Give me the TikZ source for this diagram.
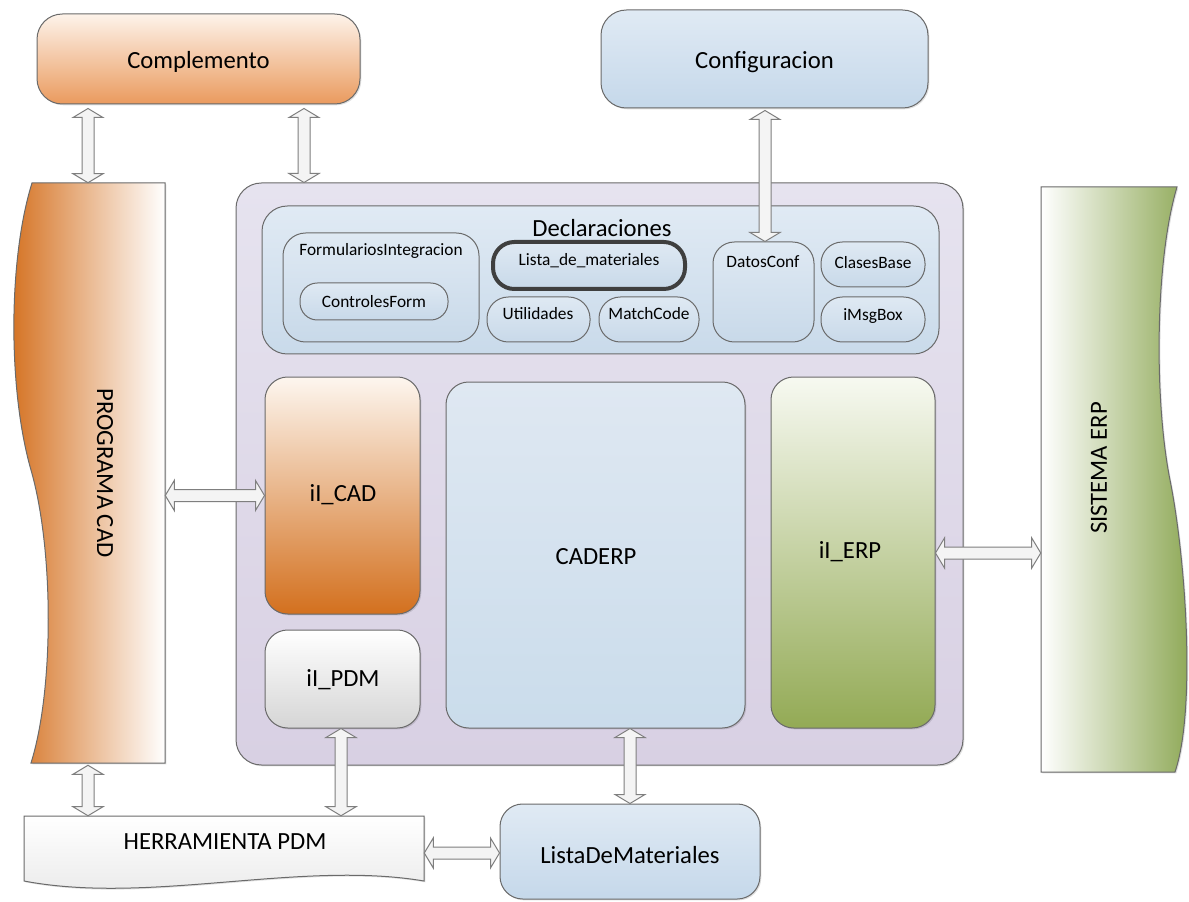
\documentclass[tikz,border=0pt]{standalone}
\usepackage{fontspec}
\setmainfont{Carlito}
\usetikzlibrary{fit,calc,shadows}
\definecolor{strk}{HTML}{6A6A6A}
\definecolor{compT}{HTML}{FDF3EA}
\definecolor{compB}{HTML}{EA9A5E}
\definecolor{confT}{HTML}{E0EAF4}
\definecolor{confB}{HTML}{C5D8EA}
\definecolor{mainT}{HTML}{E6E3EF}
\definecolor{mainB}{HTML}{D8D0E3}
\definecolor{declT}{HTML}{E0EAF4}
\definecolor{declB}{HTML}{C9DAEA}
\definecolor{inT}{HTML}{DFE9F3}
\definecolor{inB}{HTML}{C8D9E9}
\definecolor{icadT}{HTML}{FDF6EF}
\definecolor{icadB}{HTML}{D3701E}
\definecolor{ipdmB}{HTML}{D5D5D5}
\definecolor{caderpT}{HTML}{DFE8F2}
\definecolor{caderpB}{HTML}{CADCEB}
\definecolor{ierpT}{HTML}{F7F9F1}
\definecolor{ierpB}{HTML}{93AA55}
\definecolor{cadL}{HTML}{D4701F}
\definecolor{erpR}{HTML}{8AA550}
\definecolor{arrS}{HTML}{7F7F7F}
\definecolor{arrF}{HTML}{F4F4F4}
\definecolor{thick}{HTML}{3F3F3F}
\tikzset{
  bx/.style={draw=strk, line width=0.75pt, inner sep=0pt},
  big/.style={font=\fontsize{18.5}{22}\selectfont, text=black, inner sep=0pt},
  small/.style={font=\fontsize{13}{15}\selectfont, text=black, inner sep=0pt},
  shd/.style={drop shadow={shadow xshift=1pt, shadow yshift=-1pt, fill=black, opacity=0.12}},
  inbox/.style={bx, top color=inT, bottom color=inB},
  blockarr/.style={draw=arrS, line width=0.75pt, fill=arrF, line join=miter},
}
\newcommand\varrow[2]{%
  \path[blockarr] let \p1=#1, \p2=#2 in
  (\x1,\y1) -- (\x1+11.25pt,\y1-6.75pt) -- (\x1+4.5pt,\y1-6.75pt) -- (\x1+4.5pt,\y2+6.75pt)
  -- (\x1+11.25pt,\y2+6.75pt) -- (\x1,\y2) -- (\x1-11.25pt,\y2+6.75pt) -- (\x1-4.5pt,\y2+6.75pt)
  -- (\x1-4.5pt,\y1-6.75pt) -- (\x1-11.25pt,\y1-6.75pt) -- cycle;}
\newcommand\harrow[2]{%
  \path[blockarr] let \p1=#1, \p2=#2 in
  (\x1,\y1) -- (\x1+6.75pt,\y1+11.25pt) -- (\x1+6.75pt,\y1+4.5pt) -- (\x2-6.75pt,\y1+4.5pt)
  -- (\x2-6.75pt,\y1+11.25pt) -- (\x2,\y1) -- (\x2-6.75pt,\y1-11.25pt) -- (\x2-6.75pt,\y1-4.5pt)
  -- (\x1+6.75pt,\y1-4.5pt) -- (\x1+6.75pt,\y1-11.25pt) -- cycle;}
\begin{document}
\begin{tikzpicture}[x=0.75pt, y=-0.75pt]
\useasboundingbox (0,0) rectangle (1189,902);
\fill[white] (0,0) rectangle (1189,902);

% top boxes
\node[bx, shd, rounded corners=19pt, top color=compT, bottom color=compB, fit={(37,14) (360,104)}] (comp) {};
\node[big] (comptxt) at ($(comp.center)+(0,3)$) {Complemento};
\node[bx, shd, rounded corners=19pt, top color=confT, bottom color=confB, fit={(601,10) (928,108)}] (conf) {};
\node[big] (conftxt) at ($(conf.center)+(0,3)$) {Configuracion};

% PROGRAMA CAD
\node[inner sep=0pt, fit={(12,183) (165,763)}] (cad) {};
\path[bx, shd, left color=cadL, right color=white]
  (165,183) -- (32,183) .. controls (8,260) and (8,390) .. (31,470)
  .. controls (54,550) and (54,690) .. (31,763) -- (165,763) -- cycle;
\node[big, rotate=-90] (cadlbl) at (105,473) {PROGRAMA CAD};

% SISTEMA ERP
\node[inner sep=0pt, fit={(1041,187) (1187,772)}] (erp) {};
\path[bx, shd, left color=white, right color=erpR]
  (1041,187) -- (1177,187) .. controls (1155,260) and (1154,400) .. (1170,480)
  .. controls (1186,560) and (1196,710) .. (1175,772) -- (1041,772) -- cycle;
\node[big, rotate=90] (erplbl) at (1099,468) {SISTEMA ERP};

% HERRAMIENTA PDM
\node[inner sep=0pt, fit={(24,816) (424,889)}] (herr) {};
\path[bx, shd, top color=white, bottom color=gray!18]
  (24,816) -- (424,816) -- (424,881) .. controls (300,860) and (150,905) .. (24,881) -- cycle;
\node[big] (herrlbl) at (225,842) {HERRAMIENTA PDM};

% ListaDeMateriales
\node[bx, shd, rounded corners=17pt, top color=confT, bottom color=confB, fit={(500,804) (760,899)}] (ldm) {};
\node[big] (ldmtxt) at (630,855) {ListaDeMateriales};

% main container
\node[bx, shd, rounded corners=19pt, top color=mainT, bottom color=mainB, fit={(236,183) (963,765)}] (main) {};

% Declaraciones
\node[bx, rounded corners=19pt, top color=declT, bottom color=declB, fit={(262,206) (939,354)}] (decl) {};
\node[big] (decllbl) at (602,228) {Declaraciones};

\node[inbox, rounded corners=17pt, fit={(283,233) (479,342)}] (form) {};
\node[small] (formlbl) at (381,251) {FormulariosIntegracion};
\node[inbox, rounded corners=13pt, fit={(300,283) (448,320)}] (ctrl) {};
\node[small] (ctrltxt) at (ctrl.center) {ControlesForm};
\node[bx, draw=thick, line width=3pt, rounded corners=16pt, top color=inT, bottom color=inB, fit={(493,242) (685,289)}] (lista) {};
\node[small] (listalbl) at (589,261) {Lista\_de\_materiales};
\node[inbox, rounded corners=16pt, fit={(487,297) (590,342)}] (util) {};
\node[small] (utiltxt) at (538,314) {Utilidades};
\node[inbox, rounded corners=16pt, fit={(599,297) (699,342)}] (match) {};
\node[small] (matchtxt) at (649,314) {MatchCode};
\node[inbox, rounded corners=16pt, fit={(713,242) (814,342)}] (datos) {};
\node[small] (datoslbl) at (763,262) {DatosConf};
\node[inbox, rounded corners=16pt, fit={(821,242) (925,287)}] (clases) {};
\node[small] (clasestxt) at (873,263) {ClasesBase};
\node[inbox, rounded corners=16pt, fit={(821,297) (925,342)}] (imsg) {};
\node[small] (imsgtxt) at (873,316) {iMsgBox};

% big inner blocks
\node[bx, shd, rounded corners=17pt, top color=icadT, bottom color=icadB, fit={(265,377) (420,614)}] (icad) {};
\node[big] (icadtxt) at (343,495) {iI\_CAD};
\node[bx, shd, rounded corners=17pt, top color=white, bottom color=ipdmB, fit={(265,630) (420,728)}] (ipdm) {};
\node[big] (ipdmtxt) at (343,680) {iI\_PDM};
\node[bx, shd, rounded corners=17pt, top color=caderpT, bottom color=caderpB, fit={(446,382) (745,728)}] (caderp) {};
\node[big] (caderptxt) at (596,557) {CADERP};
\node[bx, shd, rounded corners=17pt, top color=ierpT, bottom color=ierpB, fit={(771,377) (935,728)}] (ierp) {};
\node[big] (ierptxt) at (850,552) {iI\_ERP};

% connectors
\coordinate (ax1) at (88,0);
\coordinate (ax2) at (304,0);
\coordinate (ax3) at (765,0);
\coordinate (ax7) at (341,0);
\coordinate (ax8) at (630,0);
\coordinate (ay5) at (0,553);
\coordinate (ay9) at (0,853);

\varrow{($(ax1 |- comp.south)+(0,4)$)}{(ax1 |- cad.north)}
\varrow{($(ax2 |- comp.south)+(0,4)$)}{(ax2 |- main.north)}
\varrow{($(ax3 |- conf.south)+(0,2)$)}{(ax3 |- datos.north)}
\harrow{(cad.east |- icad.west)}{(icad.west)}
\harrow{(ierp.east |- ay5)}{(erp.west |- ay5)}
\varrow{($(ax1 |- cad.south)+(0,2)$)}{(ax1 |- herr.north)}
\varrow{(ax7 |- ipdm.south)}{(ax7 |- herr.north)}
\varrow{(ax8 |- caderp.south)}{(ax8 |- ldm.north)}
\harrow{(herr.east |- ay9)}{(ldm.west |- ay9)}
\end{tikzpicture}
\end{document}
